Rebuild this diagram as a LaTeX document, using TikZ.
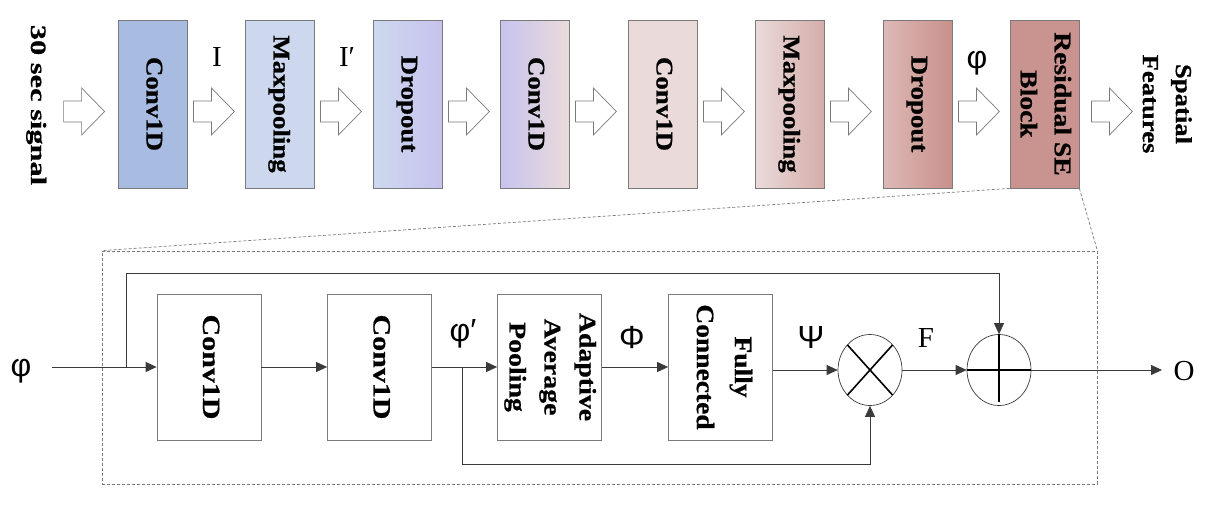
\documentclass[tikz,border=0pt]{standalone}
\usepackage{fontspec}
\setmainfont{Liberation Serif}[BoldFeatures={FakeBold=0.6}]
\newfontfamily\sansgr{Liberation Sans}
\usetikzlibrary{calc,arrows.meta,shapes.geometric}
\newcommand\rtxt[4]{\scalebox{#1}[1]{\fontsize{#2}{#3}\selectfont\bfseries\begin{tabular}{@{}c@{}}#4\end{tabular}}}
\newcommand\harrowat[1]{\draw[hollow] ($(#1)+(0,-10.5)$) -- ++(18,0) -- ++(0,-13) -- ++(23,23.5) -- ++(-23,23.5) -- ++(0,-13) -- ++(-18,0) -- cycle;}
\definecolor{cA}{HTML}{A8BBE0}
\definecolor{cB}{HTML}{CDD8EE}
\definecolor{cC}{HTML}{C6C3EE}
\definecolor{cD}{HTML}{EADBDA}
\definecolor{cE}{HTML}{D4ADAA}
\definecolor{cF}{HTML}{DDB9B6}
\definecolor{cG}{HTML}{C8908B}
\definecolor{cH}{HTML}{C9948F}
\definecolor{edge}{HTML}{7A7A7A}
\definecolor{wire}{HTML}{3A3A3A}
\begin{document}
\begin{tikzpicture}[x=1pt,y=-1pt,
  topbox/.style={draw=edge, line width=0.8pt, minimum width=69pt, minimum height=168pt, inner sep=0pt},
  lowbox/.style={draw=edge, line width=0.8pt, minimum width=104pt, minimum height=146pt, inner sep=0pt},
  opnode/.style={ellipse, draw=wire, line width=0.7pt, minimum width=64pt, minimum height=71pt, inner sep=0pt},
  hollow/.style={draw=edge, line width=0.7pt, fill=white},
  conn/.style={draw=wire, line width=0.8pt},
  tip/.style={-{Triangle[length=11pt,width=10pt]}},
  dashbox/.style={draw=edge, dashed, dash pattern=on 3pt off 2pt, line width=0.7pt},
  serl/.style={font=\fontsize{29}{32}\selectfont, inner sep=0pt},
  sanl/.style={font=\sansgr\fontsize{32}{34}\selectfont, inner sep=0pt},
  rlab/.style={rotate=-90, inner sep=0pt}]
\useasboundingbox (0,0) rectangle (1218,506);

% top row
\node[topbox, fill=cA] (b1) at (152.5,104) {};
\node[topbox, fill=cB] (b2) at (279.5,104) {};
\node[topbox, left color=cB, right color=cC] (b3) at (407.5,104) {};
\node[topbox, left color=cC, right color=cD] (b4) at (534.5,104) {};
\node[topbox, fill=cD] (b5) at (662.5,104) {};
\node[topbox, left color=cD, right color=cE] (b6) at (789.5,104) {};
\node[topbox, left color=cF, right color=cG] (b7) at (917.5,104) {};
\node[topbox, fill=cH] (b8) at (1044.5,104) {};

\node[rlab] (t0) at (37,105) {\rtxt{1.38}{22}{30}{30 sec signal}};
\node[rlab] at (b1.center) {\rtxt{1.12}{24}{30}{Conv1D}};
\node[rlab] at (b2.center) {\rtxt{1.12}{24}{30}{Maxpooling}};
\node[rlab] at (b3.center) {\rtxt{1.12}{24}{30}{Dropout}};
\node[rlab] at (b4.center) {\rtxt{1.12}{24}{30}{Conv1D}};
\node[rlab] at (b5.center) {\rtxt{1.12}{24}{30}{Conv1D}};
\node[rlab] at (b6.center) {\rtxt{1.12}{24}{30}{Maxpooling}};
\node[rlab] at (b7.center) {\rtxt{1.12}{24}{30}{Dropout}};
\node[rlab] at (b8.center) {\rtxt{1.15}{24}{34}{Residual SE\\Block}};
\node[rlab] (t9) at (1166,104) {\rtxt{1.16}{23}{33}{Spatial\\Features}};

\harrowat{$(b1.west)+(-54,7.5)$}
\harrowat{$(b1.east)+(6,7.5)$}
\harrowat{$(b2.east)+(6,7.5)$}
\harrowat{$(b3.east)+(6,7.5)$}
\harrowat{$(b4.east)+(6,7.5)$}
\harrowat{$(b5.east)+(6,7.5)$}
\harrowat{$(b6.east)+(6,7.5)$}
\harrowat{$(b7.east)+(6,7.5)$}
\harrowat{$(b8.east)+(12,7.5)$}

\node[serl] (lI) at (217,57) {I};
\node[serl] (lIp) at (347,57) {I′};
\node[sanl] (lphiT) at (977,63) {φ};

% zoom frame
\node[dashbox, minimum width=995pt, minimum height=233pt, inner sep=0pt] (se) at (599.5,367.5) {};
\draw[dashbox] (b8.south west) -- (se.north west);
\draw[dashbox] (b8.south east) -- (se.north east);

% lower block
\node[lowbox] (c1) at (209,367) {};
\node[lowbox] (c2) at (379.5,367) {};
\node[lowbox] (aap) at (549.5,367) {};
\node[lowbox] (fc) at (720.5,367) {};
\node[rlab] at (c1.center) {\rtxt{1.2}{25}{30}{Conv1D}};
\node[rlab] at (c2.center) {\rtxt{1.2}{25}{30}{Conv1D}};
\node[rlab] at ($(aap.center)+(2,0)$) {\rtxt{1.16}{24}{35}{Adaptive\\Average\\Pooling}};
\node[rlab] at ($(fc.center)+(3,0)$) {\rtxt{1.1}{25}{38}{Fully\\Connected}};

\node[opnode] (ot) at (870,370) {};
\node[opnode] (op) at (999,370) {};
\draw[line width=1.6pt] ($(ot.center)+(-22.6,-25.1)$) -- ($(ot.center)+(22.6,25.1)$);
\draw[line width=1.6pt] ($(ot.center)+(22.6,-25.1)$) -- ($(ot.center)+(-22.6,25.1)$);
\draw[line width=1.6pt] (op.west) -- (op.east);
\draw[line width=1.6pt] (op.north) -- ($(op.south)+(0,-4)$);

\coordinate (in) at (52,367);
\coordinate (split) at (126,367);
\coordinate (top) at (126,273);
\coordinate (split2) at (462,367);
\coordinate (bot) at (462,464);
\coordinate (out) at (1162,370);

\draw[conn, tip] (in) -- (c1.west);
\draw[conn, tip] (split) -- (top) -| (op.north);
\draw[conn, tip] (c1.east) -- (c2.west);
\draw[conn, tip] (c2.east) -- (aap.west);
\draw[conn, tip] (aap.east) -- (fc.west);
\draw[conn, tip] (fc.east |- ot.west) -- (ot.west);
\draw[conn, tip] (split2) -- (bot) -| (ot.south);
\draw[conn, tip] (ot.east) -- (op.west);
\draw[conn, tip] (op.east) -- (out);

\node[sanl] (lphi) at (21,371) {φ};
\node[sanl] (lphip) at (463,334) {φ′};
\node[sanl] (lPhi) at (632,337) {Φ};
\node[sanl] (lPsi) at (811,337) {Ψ};
\node[serl] (lF) at (926,338) {F};
\node[serl] (lO) at (1184,371) {O};
\end{tikzpicture}
\end{document}
